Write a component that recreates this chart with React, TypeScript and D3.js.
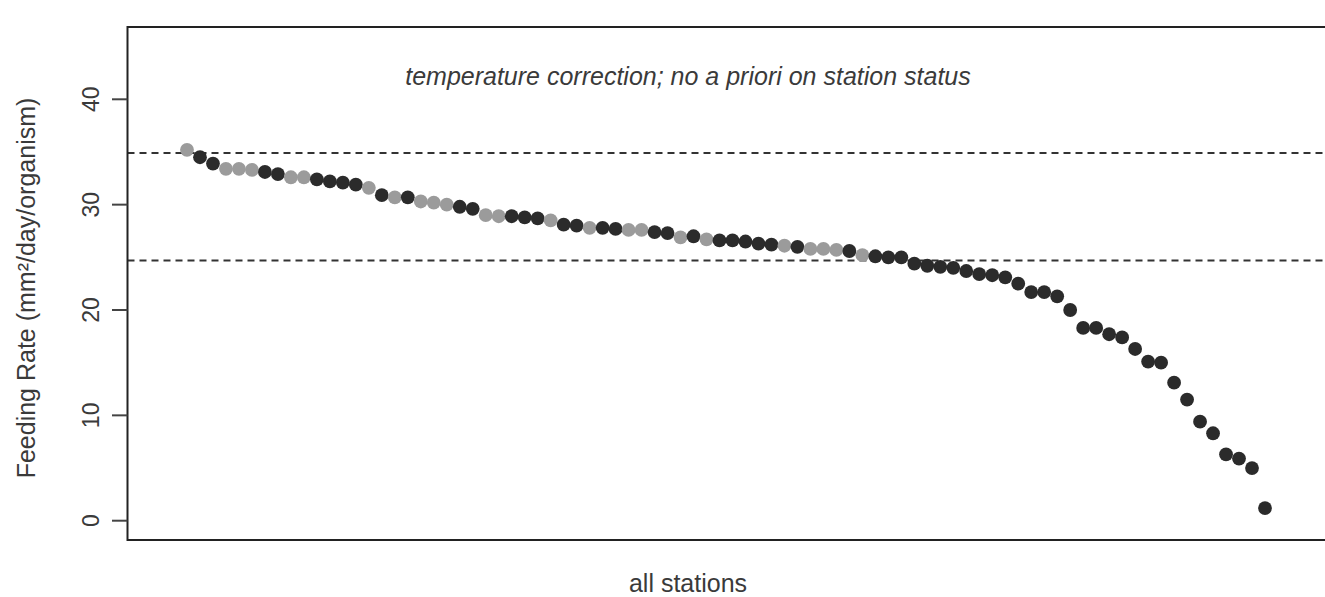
import React from "react";
import * as d3 from "d3";

const feedingRate: number[] = [
  35.2, 34.5, 33.9, 33.4, 33.4, 33.3, 33.1, 32.9, 32.6, 32.6,
  32.4, 32.2, 32.1, 31.9, 31.6, 30.9, 30.7, 30.7, 30.3, 30.2,
  30.0, 29.8, 29.6, 29.0, 28.9, 28.9, 28.8, 28.7, 28.5, 28.1,
  28.0, 27.8, 27.8, 27.7, 27.6, 27.6, 27.4, 27.3, 26.9, 27.0,
  26.7, 26.6, 26.6, 26.5, 26.3, 26.2, 26.1, 26.0, 25.8, 25.8,
  25.7, 25.6, 25.2, 25.1, 25.0, 25.0, 24.4, 24.2, 24.1, 24.0,
  23.7, 23.4, 23.3, 23.1, 22.5, 21.7, 21.7, 21.3, 20.0, 18.3,
  18.3, 17.7, 17.4, 16.3, 15.1, 15.0, 13.1, 11.5, 9.4, 8.3,
  6.3, 5.9, 5.0, 1.2,
];

// 1-based station ranks drawn in light grey; all others dark
const greyStations: number[] = [
  1, 4, 5, 6, 9, 10, 15, 17, 19, 20, 21, 24, 25, 29, 32, 35, 36, 39, 41, 47, 49, 50, 51, 53,
];

const yTicks: number[] = [0, 10, 20, 30, 40];
const thresholds: number[] = [34.9, 24.7];

const titleText = "temperature correction; no a priori on station status";
const xLabel = "all stations";
const yLabel = "Feeding Rate (mm²/day/organism)";

export default function App() {
  const W = 1325;
  const H = 597;
  const boxLeft = 127.5;
  const boxTop = 27;
  const boxBottom = 540;
  const boxRight = 1345;

  const x = d3.scaleLinear().domain([1, feedingRate.length]).range([187, 1265]);
  const y = d3.scaleLinear().domain([0, 40]).range([520.7, 99.3]);

  const greySet = new Set(greyStations);
  const font = "'Liberation Sans', Arial, Helvetica, sans-serif";
  const textColor = "#3a3a3a";

  return (
    <svg
      width={W}
      height={H}
      style={{ position: "absolute", left: 0, top: 0, background: "#fff" }}
      fontFamily={font}
    >
      <rect x={0} y={0} width={W} height={H} fill="#fff" />
      {thresholds.map((t) => (
        <line
          key={t}
          x1={boxLeft}
          x2={boxRight}
          y1={y(t)}
          y2={y(t)}
          stroke="#333"
          strokeWidth={2}
          strokeDasharray="7,5"
        />
      ))}
      {feedingRate.map((v, i) => (
        <circle
          key={i}
          cx={x(i + 1)}
          cy={y(v)}
          r={6.9}
          fill={greySet.has(i + 1) ? "#9b9b9b" : "#2b2b2b"}
        />
      ))}
      <rect
        x={boxLeft}
        y={boxTop}
        width={boxRight - boxLeft}
        height={boxBottom - boxTop}
        fill="none"
        stroke="#222"
        strokeWidth={2}
      />
      {yTicks.map((t) => (
        <g key={t}>
          <line x1={112} x2={boxLeft} y1={y(t)} y2={y(t)} stroke="#444" strokeWidth={2} />
          <text
            transform={`translate(99, ${y(t)}) rotate(-90)`}
            textAnchor="middle"
            fontSize={23}
            fill={textColor}
          >
            {t}
          </text>
        </g>
      ))}
      <text
        transform={`translate(35, ${288}) rotate(-90)`}
        textAnchor="middle"
        fontSize={25}
        fill={textColor}
      >
        {yLabel}
      </text>
      <text x={688} y={592} textAnchor="middle" fontSize={25} fill={textColor}>
        {xLabel}
      </text>
      <text
        x={688}
        y={85}
        textAnchor="middle"
        fontSize={25}
        fontStyle="italic"
        fill={textColor}
      >
        {titleText}
      </text>
    </svg>
  );
}
